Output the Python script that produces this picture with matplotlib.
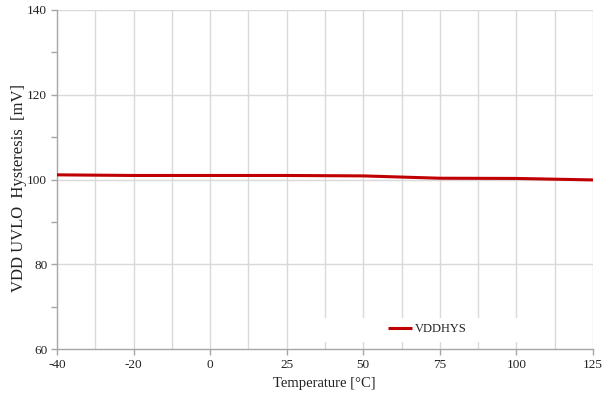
import matplotlib
matplotlib.use("Agg")
import matplotlib.pyplot as plt
from matplotlib.patches import Rectangle
import numpy as np

temps = ["-40", "-20", "0", "25", "50", "75", "100", "125"]
vddhys = [101.1, 100.95, 100.95, 100.95, 100.85, 100.3, 100.25, 99.9]
y_ticks = [60, 80, 100, 120, 140]

plt.rcParams['font.family'] = ['Liberation Serif', 'DejaVu Serif']

fig = plt.figure(figsize=(6.13, 4.0), dpi=100)
ax = fig.add_axes([57/613, 1-349/400, (593-57)/613, (349-10)/400])

x = np.arange(len(temps))
grid_c = '#d9d9d9'
# vertical gridlines every half category
for gx in np.arange(0.5, len(temps) - 0.5 + 0.01, 0.5):
    ax.axvline(gx, color=grid_c, lw=1.0, zorder=0)
for gy in y_ticks[1:]:
    ax.axhline(gy, color=grid_c, lw=1.0, zorder=0)

# white legend background area (covers gridlines)
ax.add_patch(Rectangle((320/613, 1-342/400), 220/613, 24/400,
                       transform=fig.transFigure, facecolor='white',
                       edgecolor='none', zorder=1))

ax.plot(x, vddhys, color='#c00000', lw=2.2, label='VDDHYS', zorder=3,
        solid_capstyle='butt')

ax.set_xlim(0, len(temps) - 1)
ax.set_ylim(60, 140)
ax.set_xticks(x)
ax.set_xticklabels(temps)
ax.set_yticks(y_ticks)
ax.set_yticks([70, 90, 110, 130], minor=True)

for s in ['top', 'right']:
    ax.spines[s].set_visible(False)
for s in ['left', 'bottom']:
    ax.spines[s].set_color('#a6a6a6')
    ax.spines[s].set_linewidth(1.0)

ax.tick_params(axis='both', which='both', colors='#a6a6a6', labelcolor='#222222',
               labelsize=9.5)
ax.tick_params(axis='x', length=4, width=1, pad=3)
ax.tick_params(axis='y', which='major', length=4, width=1, pad=3)
ax.tick_params(axis='y', which='minor', length=4, width=1)

ax.set_xlabel('Temperature [°C]', fontsize=10.5, color='#222222')
ax.set_ylabel('VDD UVLO  Hysteresis  [mV]', fontsize=12, color='#222222')
ax.xaxis.set_label_coords((324-57)/536, (349-384)/339)
ax.yaxis.set_label_coords((19-57)/536, (349-188)/339)
ax.xaxis.label.set_va('center')
ax.yaxis.label.set_va('center')

leg = ax.legend(loc='center left', bbox_to_anchor=(388/613, 1-329/400),
                bbox_transform=fig.transFigure, frameon=False, fontsize=9,
                handlelength=1.95, handletextpad=0.2, borderpad=0,
                borderaxespad=0)
leg.set_zorder(5)
for t in leg.get_texts():
    t.set_color('#222222')

fig.savefig('out.png', dpi=100)
